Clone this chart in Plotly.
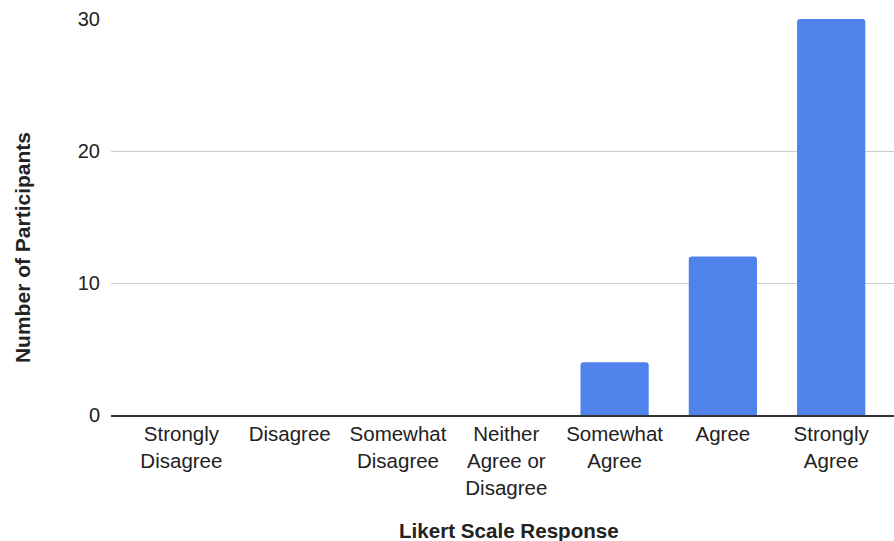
import plotly.graph_objects as go

# Likert responses and participant counts
categories = [
    "Strongly Disagree",
    "Disagree",
    "Somewhat Disagree",
    "Neither Agree or Disagree",
    "Somewhat Agree",
    "Agree",
    "Strongly Agree",
]
tick_labels = [
    "Strongly<br>Disagree",
    "Disagree",
    "Somewhat<br>Disagree",
    "Neither<br>Agree or<br>Disagree",
    "Somewhat<br>Agree",
    "Agree",
    "Strongly<br>Agree",
]
participants = [0, 0, 0, 0, 4, 12, 30]
y_ticks = [0, 10, 20, 30]

FONT = "Liberation Sans, Arial, Helvetica, sans-serif"
TEXT = "#222222"

fig = go.Figure(
    go.Bar(
        x=categories,
        y=participants,
        marker=dict(color="#4f83eb", line=dict(width=0)),
        width=0.63,
        hoverinfo="x+y",
    )
)

fig.update_layout(
    width=894,
    height=541,
    margin=dict(l=111, r=0, t=19, b=126, pad=0),
    paper_bgcolor="white",
    plot_bgcolor="white",
    barcornerradius=3,
    showlegend=False,
    font=dict(family=FONT, size=20, color=TEXT),
    xaxis=dict(
        type="category",
        categoryorder="array",
        categoryarray=categories,
        tickvals=categories,
        ticktext=tick_labels,
        range=[-0.65, 6.58],
        showgrid=False,
        showline=True,
        linecolor="#333333",
        linewidth=1.5,
        ticks="",
        tickfont=dict(family=FONT, size=20.5, color=TEXT),
        automargin=False,
        fixedrange=True,
    ),
    yaxis=dict(
        range=[0, 30],
        tickvals=y_ticks,
        showgrid=True,
        gridcolor="#cccccc",
        gridwidth=1,
        zeroline=False,
        showline=False,
        ticks="",
        ticklabelstandoff=10,
        tickfont=dict(family=FONT, size=20, color=TEXT),
        automargin=False,
        fixedrange=True,
    ),
    annotations=[
        dict(
            text="<b>Likert Scale Response</b>",
            xref="paper", yref="paper",
            x=0.508, y=0,
            xanchor="center", yanchor="middle",
            yshift=-115,
            showarrow=False,
            font=dict(family=FONT, size=20.6, color=TEXT),
        ),
        dict(
            text="<b>Number of Participants</b>",
            xref="paper", yref="paper",
            x=0, y=0.4216,
            xanchor="center", yanchor="middle",
            xshift=-89,
            textangle=-90,
            showarrow=False,
            font=dict(family=FONT, size=21, color=TEXT),
        ),
    ],
)

fig.write_html("out.html")
